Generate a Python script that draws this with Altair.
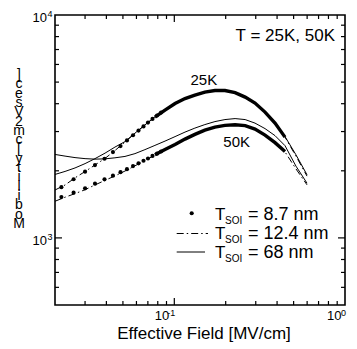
import altair as alt
import pandas as pd

# ---------------- data ----------------
# effective field grid (MV/cm) for the curves
E_line = [0.02, 0.0229, 0.0262, 0.030, 0.0343, 0.0393, 0.0449, 0.0514, 0.0588, 0.0673,
          0.077, 0.0882, 0.101, 0.1155, 0.132, 0.151, 0.173, 0.198, 0.227, 0.26,
          0.297, 0.34, 0.389, 0.445, 0.516, 0.599]

# mobility [cm2/Vs]
mu_25K_8p7 = [1637, 1724, 1858, 1983, 2121, 2272, 2464, 2690, 2937, 3207,
              3483, 3745, 4006, 4219, 4374, 4511, 4582, 4582, 4487, 4283,
              4026, 3668, 3273, 2832, None, None]
mu_25K_12p4 = [1640, 1727, 1860, 1985, 2123, 2274, 2466, 2692, 2939, 3209,
               3485, 3747, 4008, 4221, 4376, 4513, 4584, 4584, 4489, 4285,
               4028, 3670, 3275, 2834, 2328, 1893]
mu_25K_68 = [1926, 1987, 2060, 2154, 2268, 2401, 2555, 2704, 2950, 3215,
             3490, 3750, 4010, 4222, 4376, 4512, 4583, 4583, 4490, 4288,
             4032, 3675, 3285, 2850, 2360, 1920]

mu_50K_8p7 = [1484, 1547, 1604, 1668, 1751, 1834, 1918, 2014, 2121, 2238,
              2363, 2494, 2627, 2775, 2913, 3045, 3141, 3197, 3217, 3190,
              3077, 2892, 2676, 2439, None, None]
mu_50K_12p4 = [1460, 1522, 1580, 1645, 1728, 1812, 1898, 1995, 2105, 2225,
               2352, 2486, 2620, 2770, 2910, 3042, 3139, 3196, 3216, 3189,
               3076, 2890, 2672, 2432, 2040, 1730]
mu_50K_68 = [2368, 2328, 2292, 2268, 2256, 2263, 2287, 2320, 2388, 2489,
             2600, 2718, 2847, 2983, 3109, 3224, 3325, 3395, 3430, 3395,
             3273, 3093, 2876, 2594, 2099, 1760]

# individual measured points (T_SOI = 8.7 nm) at low field
E_dot = [0.0218, 0.0257, 0.030, 0.0343, 0.039, 0.0437, 0.0484, 0.0528, 0.0573,
         0.0617, 0.066, 0.0701, 0.0745, 0.0792, 0.0836]
mu_dot_25K = [1689, 1834, 1983, 2121, 2266, 2426, 2581, 2738, 2886,
              3030, 3163, 3290, 3419, 3541, 3649]
mu_dot_50K = [1524, 1596, 1668, 1751, 1831, 1902, 1972, 2034, 2099,
              2160, 2219, 2272, 2333, 2388, 2441]

# axis ticks
x_minor = [0.03, 0.04, 0.05, 0.06, 0.07, 0.08, 0.09, 0.2, 0.3, 0.4, 0.5, 0.6, 0.7, 0.8, 0.9]
x_major = [0.1]
y_minor = [600, 700, 800, 900, 2000, 3000, 4000, 5000, 6000, 7000, 8000, 9000]
y_major = [1000]
x_labels = [(0.1, "-1"), (1.0, "0")]
y_labels = [(10000, "4"), (1000, "3")]

legend_labels = ["= 8.7 nm", "= 12.4 nm", "= 68 nm"]
temp_labels = [("25K", 0.149, 4850), ("50K", 0.232, 2563)]
y_title_chars = ["]", "c", "e", "s", "V", "2", "m", "c", "[", "y", "t", "i", "l", "i", "b", "o", "M"]

FONT = "Liberation Sans"
W, H = 290, 290

xs = alt.Scale(type="log", domain=[0.02, 1], nice=False)
ys = alt.Scale(type="log", domain=[500, 10000], nice=False)


def X(f="E"):
    return alt.X(f"{f}:Q", scale=xs, axis=None)


def Y(f="mu"):
    return alt.Y(f"{f}:Q", scale=ys, axis=None)


def series_df(values, T):
    rows = [{"E": e, "mu": m, "T": T} for e, m in zip(E_line, values) if m is not None]
    return pd.DataFrame(rows)


df68 = pd.concat([series_df(mu_25K_68, "25K"), series_df(mu_50K_68, "50K")])
df124 = pd.concat([series_df(mu_25K_12p4, "25K"), series_df(mu_50K_12p4, "50K")])
df87 = pd.concat([series_df(mu_25K_8p7, "25K"), series_df(mu_50K_8p7, "50K")])
dfdot = pd.concat([
    pd.DataFrame({"E": E_dot, "mu": mu_dot_25K, "T": "25K"}),
    pd.DataFrame({"E": E_dot, "mu": mu_dot_50K, "T": "50K"}),
])

DASHDOT = [7, 3, 1.5, 3]

solid = alt.Chart(df68).mark_line(color="black", strokeWidth=1).encode(
    x=X(), y=Y(), detail="T:N")
dashdot = alt.Chart(df124).mark_line(color="black", strokeWidth=1, strokeDash=DASHDOT).encode(
    x=X(), y=Y(), detail="T:N")
thick = alt.Chart(df87).transform_filter("datum.E >= 0.075").mark_line(
    color="black", strokeWidth=3.4, strokeCap="butt").encode(x=X(), y=Y(), detail="T:N")
dots = alt.Chart(dfdot).mark_circle(color="black", size=17, opacity=1).encode(x=X(), y=Y())

one = pd.DataFrame({"k": [0]})

# frame
frame = alt.Chart(one).mark_rect(fill=None, stroke="black", strokeWidth=1.6).encode(
    x=alt.value(0), x2=alt.value(W), y=alt.value(0), y2=alt.value(H))

# ticks (inward, on all four sides)
dxm = pd.DataFrame({"E": x_minor})
dxM = pd.DataFrame({"E": x_major})
dym = pd.DataFrame({"mu": y_minor})
dyM = pd.DataFrame({"mu": y_major})
tick_style = dict(color="black", strokeWidth=1.2)
ticks = [
    alt.Chart(dxm).mark_rule(**tick_style).encode(x=X(), y=alt.value(H), y2=alt.value(H - 4)),
    alt.Chart(dxm).mark_rule(**tick_style).encode(x=X(), y=alt.value(0), y2=alt.value(4)),
    alt.Chart(dxM).mark_rule(**tick_style).encode(x=X(), y=alt.value(H), y2=alt.value(H - 7)),
    alt.Chart(dxM).mark_rule(**tick_style).encode(x=X(), y=alt.value(0), y2=alt.value(7)),
    alt.Chart(dym).mark_rule(**tick_style).encode(y=Y(), x=alt.value(0), x2=alt.value(4)),
    alt.Chart(dym).mark_rule(**tick_style).encode(y=Y(), x=alt.value(W), x2=alt.value(W - 4)),
    alt.Chart(dyM).mark_rule(**tick_style).encode(y=Y(), x=alt.value(0), x2=alt.value(7)),
    alt.Chart(dyM).mark_rule(**tick_style).encode(y=Y(), x=alt.value(W), x2=alt.value(W - 7)),
]

# tick labels: "10" with superscript exponent
labels = []
for val, ex in x_labels:
    d = pd.DataFrame({"E": [val], "ex": [ex]})
    exw = 6 if len(ex) > 1 else 4.5
    labels.append(alt.Chart(d).mark_text(font=FONT, fontSize=13, align="right", baseline="alphabetic",
                                         dx=1 - exw, color="black").encode(
        x=X(), y=alt.value(H + 15), text=alt.value("10")))
    labels.append(alt.Chart(d).mark_text(font=FONT, fontSize=9, align="right", baseline="alphabetic",
                                         dx=1, color="black").encode(
        x=X(), y=alt.value(H + 11), text="ex:N"))
for val, ex in y_labels:
    d = pd.DataFrame({"mu": [val], "ex": [ex]})
    labels.append(alt.Chart(d).mark_text(font=FONT, fontSize=13, align="right", baseline="alphabetic",
                                         dy=7, color="black").encode(
        y=Y(), x=alt.value(-8), text=alt.value("10")))
    labels.append(alt.Chart(d).mark_text(font=FONT, fontSize=9, align="left", baseline="alphabetic",
                                         dy=2, color="black").encode(
        y=Y(), x=alt.value(-7.5), text="ex:N"))

x_title = alt.Chart(one).mark_text(font=FONT, fontSize=17, align="center", baseline="alphabetic",
                                   color="black").encode(
    x=alt.value(149), y=alt.value(H + 34), text=alt.value("Effective Field [MV/cm]"))
y_title = alt.Chart(one).mark_text(font=FONT, fontSize=14, align="center", baseline="top",
                                   lineBreak="\n", lineHeight=9.3, color="black").encode(
    x=alt.value(-36), y=alt.value(53), text=alt.value("\n".join(y_title_chars)))

temp_df = pd.DataFrame({"lab": [t[0] for t in temp_labels], "E": [t[1] for t in temp_labels],
                        "mu": [t[2] for t in temp_labels]})
temp_text = alt.Chart(temp_df).mark_text(font=FONT, fontSize=15, align="center", baseline="alphabetic",
                                         color="black").encode(x=X(), y=Y(), text="lab:N")
t_text = alt.Chart(one).mark_text(font=FONT, fontSize=17, align="right", baseline="alphabetic",
                                  color="black").encode(
    x=alt.value(280), y=alt.value(26), text=alt.value("T = 25K, 50K"))

# legend
LH = 19
leg = [
    alt.Chart(one).mark_circle(color="black", size=17, opacity=1).encode(
        x=alt.value(136.7), y=alt.value(198.3)),
    alt.Chart(one).mark_rule(color="black", strokeWidth=1, strokeDash=DASHDOT).encode(
        x=alt.value(121.7), x2=alt.value(153), y=alt.value(218.5)),
    alt.Chart(one).mark_rule(color="black", strokeWidth=1).encode(
        x=alt.value(121.7), x2=alt.value(150), y=alt.value(237)),
    alt.Chart(one).mark_text(font=FONT, fontSize=17, align="left", baseline="alphabetic",
                             lineBreak="\n", lineHeight=LH, color="black").encode(
        x=alt.value(160), y=alt.value(205), text=alt.value("T\nT\nT")),
    alt.Chart(one).mark_text(font=FONT, fontSize=10, align="left", baseline="alphabetic",
                             lineBreak="\n", lineHeight=LH, color="black").encode(
        x=alt.value(170), y=alt.value(208.5), text=alt.value("SOI\nSOI\nSOI")),
    alt.Chart(one).mark_text(font=FONT, fontSize=18, align="left", baseline="alphabetic",
                             lineBreak="\n", lineHeight=LH, color="black").encode(
        x=alt.value(193), y=alt.value(205), text=alt.value("\n".join(legend_labels))),
]

chart = alt.layer(
    solid, dashdot, thick, dots, frame, *ticks, *labels, x_title, y_title, temp_text, t_text, *leg
).properties(
    width=W, height=H,
    background="white",
    autosize=alt.AutoSizeParams(type="none"),
    padding={"left": 47, "top": 7, "right": 4, "bottom": 41},
).configure_view(
    stroke=None
)

chart.save("out.html", embed_options={"renderer": "svg", "actions": False})
